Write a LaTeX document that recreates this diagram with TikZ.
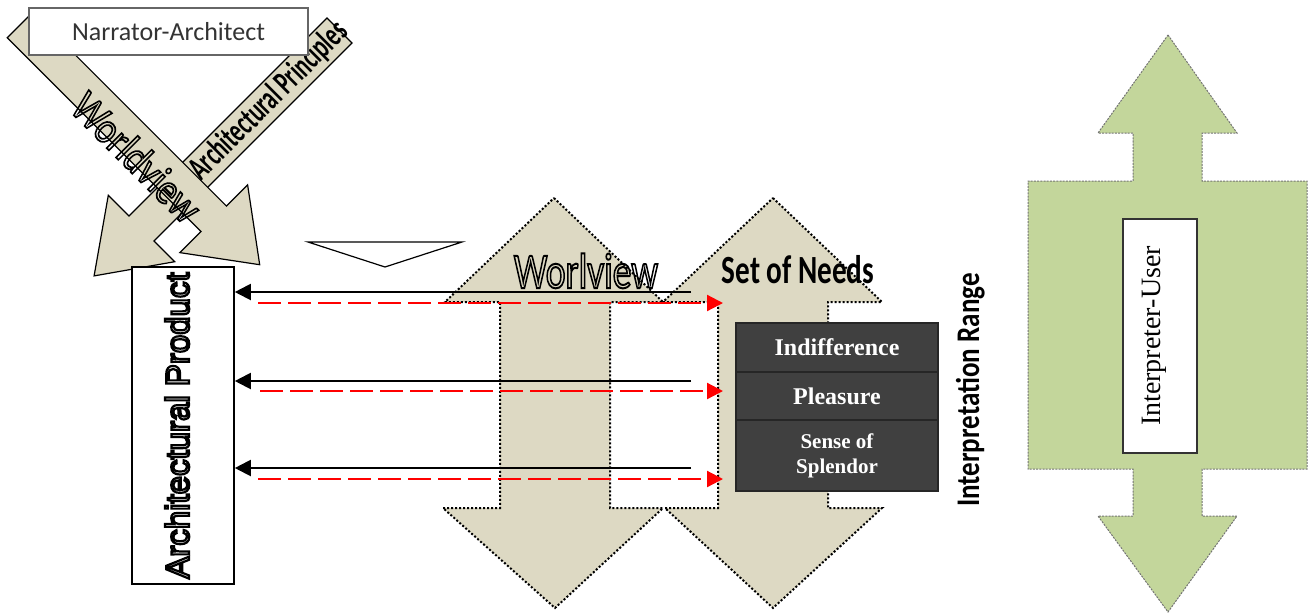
\documentclass[tikz,border=0pt]{standalone}
\usepackage{fontspec}
\newfontfamily\calib{Carlito}
\newfontfamily\arialf{Liberation Sans}
\newfontfamily\tnr{Liberation Serif}
\usetikzlibrary{arrows.meta}
\definecolor{tanf}{RGB}{221,217,195}
\definecolor{greenf}{RGB}{195,214,155}
\definecolor{darkf}{RGB}{64,64,64}
\newcommand\outl[2]{\special{pdf:literal direct 1 Tr #1 w}#2\special{pdf:literal direct 0 Tr}}
\begin{document}
\begin{tikzpicture}[x=0.5pt,y=-0.5pt,
  diagarrow/.style={fill=tanf,draw=black,line width=0.6pt,line join=miter},
  dblarrow/.style={fill=tanf,draw=black,line width=1pt,dash pattern=on 1pt off 1pt},
  greenarrow/.style={fill=greenf,draw=black!55,line width=0.5pt,dash pattern=on 1pt off 0.6pt},
  wbox/.style={draw=black,fill=white,line width=0.8pt,inner sep=0pt},
  rowbox/.style={draw=black!85,fill=darkf,line width=0.8pt,text=white,inner sep=0pt,minimum width=101pt,align=center,font=\tnr\bfseries\fontsize{12}{14}\selectfont},
  backarrow/.style={draw=black,line width=1pt,-{Triangle[length=8pt,width=8pt]}},
  fwdarrow/.style={draw=red,line width=1.1pt,dash pattern=on 11.5pt off 3.5pt,-{Triangle[length=8pt,width=8pt]}},
]
\useasboundingbox (0,0) rectangle (1312,612);

% Architectural Principles arrow (down-left)
\draw[diagarrow] (327,18) -- (129,216) -- (108.3,195.3) -- (94.1,275.9) -- (174.7,261.7) -- (154,241) -- (352,43) -- cycle;
\node[rotate=45, xscale=0.64, font=\calib\bfseries\fontsize{17}{20}\selectfont] (apr) at (269,101) {Architectural Principles};

% Worldview arrow (down-right)
\draw[diagarrow] (32.7,12.3) -- (226.4,206.0) -- (247.6,184.8) -- (259.7,264.7) -- (179.8,252.6) -- (201,231.4) -- (7.3,37.7) -- cycle;
\node[rotate=-45, xscale=0.85, font=\calib\fontsize{22}{26}\selectfont] (wvd) at (137,157) {\outl{0.9}{Worldview}};

% Narrator-Architect box
\node[draw=black!60, fill=white, line width=0.6pt, minimum width=139.5pt, minimum height=23.5pt, inner sep=0pt, text=black!80, font=\calib\fontsize{13}{15}\selectfont] (na) at (168.5,31.5) {Narrator-Architect};

% small triangle
\draw[fill=white, draw=black, line width=0.6pt] (308,242) -- (462,242) -- (385,267) -- cycle;

% double arrows
\draw[dblarrow] (554,198) -- (663,302) -- (610,302) -- (610,508) -- (663,508) -- (555,608) -- (443,508) -- (500,508) -- (500,302) -- (445,302) -- cycle;
\draw[dblarrow] (773,198) -- (882,302) -- (828,302) -- (828,508) -- (882,508) -- (773,608) -- (665,508) -- (718,508) -- (718,302) -- (663,302) -- cycle;

\node[anchor=base, xscale=0.75, font=\calib\fontsize{25}{30}\selectfont] (wv) at (586,288) {\outl{1.0}{Worlview}};
\node[anchor=base, xscale=0.73, font=\calib\bfseries\fontsize{20}{24}\selectfont] (son) at (798,283) {Set of Needs};

% interpretation rows
\node[rowbox, minimum height=24.5pt] (r1) at (837,347.5) {Indifference};
\node[rowbox, minimum height=24pt] (r2) at (837,396) {Pleasure};
\node[rowbox, minimum height=35.5pt, font=\tnr\bfseries\fontsize{10.5}{12.5}\selectfont] (r3) at (837,455.5) {Sense of\\Splendor};

\node[rotate=90, anchor=base, xscale=0.82, font=\calib\bfseries\fontsize{16.5}{20}\selectfont] (ir) at (979,390) {Interpretation Range};

% Architectural Product box
\node[wbox, rotate=90, minimum width=158.5pt, minimum height=51pt, text depth=6pt, font=\arialf\fontsize{16.5}{20}\selectfont] (ap) at (183,425.5) {\outl{1.1}{Architectural Product}};

% connectors
\coordinate (b1) at (691,292);
\coordinate (b2) at (691,381);
\coordinate (b3) at (691,468);
\draw[backarrow] (b1) -- (b1 -| ap.south);
\draw[backarrow] (b2) -- (b2 -| ap.south);
\draw[backarrow] (b3) -- (b3 -| ap.south);
\coordinate (f1s) at (258,303); \coordinate (f1e) at (723,303);
\coordinate (f2s) at (260,391); \coordinate (f2e) at (723,391);
\coordinate (f3s) at (258,479); \coordinate (f3e) at (723,479);
\draw[fwdarrow] (f1s) -- (f1e);
\draw[fwdarrow] (f2s) -- (f2e);
\draw[fwdarrow] (f3s) -- (f3e);

% Interpreter-User
\draw[greenarrow] (1168,35) -- (1237,133) -- (1202,133) -- (1202,181) -- (1307,181) -- (1307,469) -- (1202,469) -- (1202,516) -- (1237,516) -- (1168,612) -- (1098,516) -- (1133,516) -- (1133,469) -- (1028,469) -- (1028,181) -- (1133,181) -- (1133,133) -- (1098,133) -- cycle;
\node[draw=black!80, fill=white, line width=0.6pt, rotate=90, minimum width=117pt, minimum height=37pt, inner sep=0pt, text depth=9pt, font=\tnr\fontsize{14}{16}\selectfont] (iu) at (1160,336) {Interpreter-User};
\end{tikzpicture}
\end{document}
